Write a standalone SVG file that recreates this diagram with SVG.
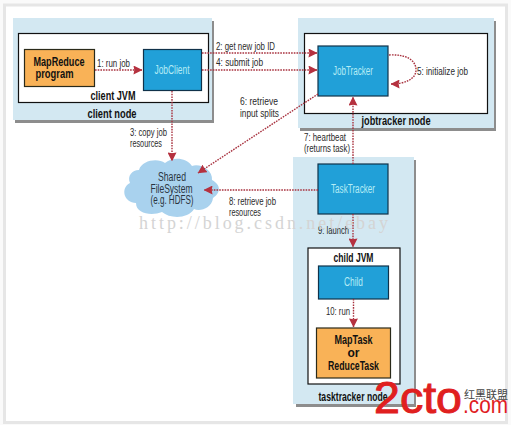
<svg xmlns="http://www.w3.org/2000/svg" width="511" height="425" viewBox="0 0 511 425">
<style>
text{font-family:"Liberation Sans",Arial,sans-serif;fill:#2a2a2a;font-size:11px}
.b{font-weight:bold;fill:#111;font-size:12px}
.w{fill:#b5ecf5;font-size:12px}
.m{text-anchor:middle}
.node{fill:#d3e8f2}
.shadow{fill:#8d8d8d}
.jvm{fill:#fff;stroke:#111;stroke-width:1.2}
.blue{fill:#21a0d8;stroke:#10324a;stroke-width:1.2}
.orange{fill:#f9b257;stroke:#2a2a1a;stroke-width:1.2}
.c{fill:none;stroke:#a8323f;stroke-width:1.4;stroke-dasharray:1.6 1.1}
.cl{font-size:12px;fill:#2a3440}
.wm{font-family:"Liberation Serif",serif;font-size:18px;fill:#d4d4d4}
</style>
<defs>
<marker id="a" viewBox="0 0 10 10" refX="9.500" refY="5" markerWidth="9" markerHeight="9" markerUnits="userSpaceOnUse" orient="auto"><path d="M0 0L10 5L0 10L1 5Z" fill="#b5313f"/></marker>
</defs>
<rect width="511" height="425" fill="#fafafa"/>
<rect x="4.500" y="5" width="502" height="417.500" fill="#fff" stroke="#e6e6e6" stroke-width="3"/>
<g id="client-node">
<rect class="shadow" x="15" y="21" width="199" height="102"/>
<rect class="node" x="13" y="18" width="199" height="102"/>
<rect class="jvm" x="18.500" y="33.500" width="190" height="69"/>
<text class="b m" x="113" y="100" textLength="45" lengthAdjust="spacingAndGlyphs">client JVM</text>
<text class="b m" x="112" y="118" textLength="49" lengthAdjust="spacingAndGlyphs">client node</text>
</g>
<g id="mapreduce-program">
<rect class="orange" x="24.500" y="49.500" width="70" height="37"/>
<text class="b m" x="59" y="66" textLength="51" lengthAdjust="spacingAndGlyphs">MapReduce</text>
<text class="b m" x="54.500" y="78" textLength="38" lengthAdjust="spacingAndGlyphs">program</text>
</g>
<g id="jobclient">
<rect class="blue" x="143.500" y="49.500" width="58" height="41"/>
<text class="w m" x="172" y="74" textLength="35" lengthAdjust="spacingAndGlyphs">JobClient</text>
</g>
<g id="jobtracker-node">
<rect class="shadow" x="300" y="21" width="196" height="110"/>
<rect class="node" x="298" y="18" width="196" height="110"/>
<rect class="jvm" x="304.500" y="33.500" width="183" height="80"/>
<text class="b m" x="396" y="125" textLength="69" lengthAdjust="spacingAndGlyphs">jobtracker node</text>
</g>
<g id="jobtracker">
<rect class="blue" x="318" y="46" width="70" height="50"/>
<text class="w m" x="353" y="75" textLength="40" lengthAdjust="spacingAndGlyphs">JobTracker</text>
</g>
<g id="tasktracker-node">
<rect class="shadow" x="296" y="160" width="120" height="247"/>
<rect class="node" x="293" y="157" width="121" height="247"/>
<rect class="jvm" x="308" y="248" width="92" height="136"/>
<text class="b m" x="353" y="401" textLength="69" lengthAdjust="spacingAndGlyphs">tasktracker node</text>
<text class="b m" x="353.500" y="262" textLength="40" lengthAdjust="spacingAndGlyphs">child JVM</text>
</g>
<g id="tasktracker">
<rect class="blue" x="318" y="164" width="70" height="50"/>
<text class="w m" x="353" y="193" textLength="44" lengthAdjust="spacingAndGlyphs">TaskTracker</text>
</g>
<g id="child">
<rect class="blue" x="318.500" y="266" width="70" height="33"/>
<text class="w m" x="353.500" y="286" textLength="19" lengthAdjust="spacingAndGlyphs">Child</text>
</g>
<g id="maptask">
<rect class="orange" x="316.500" y="328" width="74" height="50"/>
<text class="b m" x="353.500" y="344" textLength="38" lengthAdjust="spacingAndGlyphs">MapTask</text>
<text class="b m" x="353.500" y="357">or</text>
<text class="b m" x="353.500" y="370" textLength="51" lengthAdjust="spacingAndGlyphs">ReduceTask</text>
</g>
<g id="shared-filesystem">
<path d="M139 170C142 160 158 158 165 163C172 157 186 157 192 166C200 163 213 170 212 180C220 184 222 192 213 198C212 208 200 212 194 209C188 219 170 219 162 212C152 216 136 214 136 203C124 203 120 188 130 183C127 176 132 170 139 170Z" fill="#a9d2ee"/>
<text class="m cl" x="172" y="181" textLength="28" lengthAdjust="spacingAndGlyphs">Shared</text>
<text class="m cl" x="171.500" y="193" textLength="42" lengthAdjust="spacingAndGlyphs">FileSystem</text>
<text class="m cl" x="172" y="204" textLength="43" lengthAdjust="spacingAndGlyphs">(e.g. HDFS)</text>
</g>
<g id="connectors">
<path class="c" marker-end="url(#a)" d="M95 70H142"/>
<path class="c" marker-end="url(#a)" d="M202 53H317"/>
<path class="c" marker-end="url(#a)" d="M202 70H317"/>
<path class="c" marker-end="url(#a)" d="M172 91V161"/>
<path class="c" marker-end="url(#a)" d="M318 94L198 173"/>
<path class="c" marker-end="url(#a)" d="M389 55C406 54 416 60 416 70C416 79 405 84 391 84"/>
<path class="c" marker-end="url(#a)" d="M353 164V97"/>
<path class="c" marker-end="url(#a)" d="M318 190H204"/>
<path class="c" marker-end="url(#a)" d="M353 214V247"/>
<path class="c" marker-end="url(#a)" d="M353.500 299V327"/>
</g>
<g id="labels">
<text x="97" y="67" textLength="33" lengthAdjust="spacingAndGlyphs">1: run job</text>
<text x="216" y="50" textLength="59" lengthAdjust="spacingAndGlyphs">2: get new job ID</text>
<text x="216" y="66" textLength="47" lengthAdjust="spacingAndGlyphs">4: submit job</text>
<text x="130" y="136" textLength="37" lengthAdjust="spacingAndGlyphs">3: copy job</text>
<text x="130" y="147" textLength="32" lengthAdjust="spacingAndGlyphs">resources</text>
<text x="240" y="105" textLength="38" lengthAdjust="spacingAndGlyphs">6: retrieve</text>
<text x="240" y="117" textLength="39" lengthAdjust="spacingAndGlyphs">input splits</text>
<text x="417" y="75" textLength="51" lengthAdjust="spacingAndGlyphs">5: initialize job</text>
<text x="304" y="141" textLength="42" lengthAdjust="spacingAndGlyphs">7: heartbeat</text>
<text x="304" y="152" textLength="46" lengthAdjust="spacingAndGlyphs">(returns task)</text>
<text x="229" y="205" textLength="47" lengthAdjust="spacingAndGlyphs">8: retrieve job</text>
<text x="229" y="216" textLength="32" lengthAdjust="spacingAndGlyphs">resources</text>
<text x="318" y="234" textLength="31" lengthAdjust="spacingAndGlyphs">9: launch</text>
<text x="326" y="315" textLength="24" lengthAdjust="spacingAndGlyphs">10: run</text>
</g>
<text class="wm" x="139" y="229" textLength="249">http://blog.csdn.net/ebay</text>
<text x="374" y="413" style="font-size:44px;fill:#e0201f;stroke:#e0201f;stroke-width:1" textLength="88" lengthAdjust="spacingAndGlyphs">2cto</text>
<text x="463" y="413" style="font-size:23px;fill:#e0201f" textLength="45" lengthAdjust="spacingAndGlyphs">.com</text>
<text x="464" y="399" style="font-family:'Noto Sans CJK SC',sans-serif;font-size:11px;fill:#444">红黑联盟</text>
</svg>
